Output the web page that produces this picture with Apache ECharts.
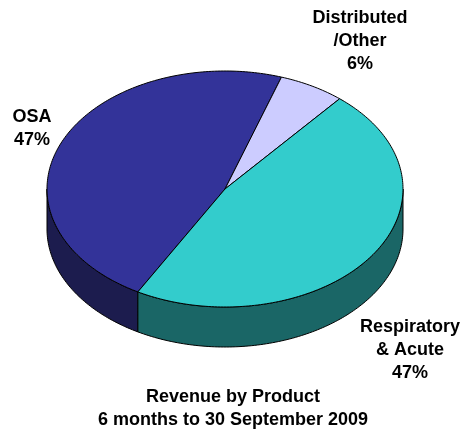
<!DOCTYPE html>
<html>
<head>
<meta charset="utf-8">
<script src="https://cdn.jsdelivr.net/npm/echarts@6/dist/echarts.min.js"></script>
<style>html,body{margin:0;padding:0;background:#fff}#chart{width:465px;height:431px}</style>
</head>
<body>
<div id="chart"></div>
<script>
// Revenue by Product - 3D pie, drawn with a custom series
var categories = ['OSA', 'Distributed\n/Other', 'Respiratory\n& Acute'];
var values = [47, 6, 47];
var topColors = ['#333399', '#ccccff', '#33cccc'];
var sideColors = ['#1c1c4e', '#8a8ab0', '#1a6666'];
var labelPos = [[32, 129], [360, 41], [410, 350]];

var cx = 225, cy = 189, rx = 178, ry = 118, depth = 40;
var startAngle = 240.7;   // degrees, slices go clockwise from here
var total = values.reduce(function (a, b) { return a + b; }, 0);
var font = 'bold 18px "Liberation Sans", Arial, sans-serif';

function pt(a, dy) {
    var r = a * Math.PI / 180;
    return [cx + rx * Math.cos(r), cy - ry * Math.sin(r) + (dy || 0)];
}
function arc(from, to, dy) {
    var pts = [], n = Math.max(2, Math.ceil(Math.abs(from - to)));
    for (var i = 0; i <= n; i++) {
        pts.push(pt(from + (to - from) * i / n, dy));
    }
    return pts;
}

var myChart = echarts.init(document.getElementById('chart'));

function renderItem(params, api) {
    var i = params.dataIndex;
    var before = 0;
    for (var k = 0; k < i; k++) before += values[k];
    var a1 = startAngle - 360 * before / total;
    var a2 = a1 - 360 * api.value(0) / total;
    var children = [];

    // front wall (only the lower half of the ellipse is seen)
    for (var m = -1; m <= 1; m++) {
        var lo = Math.max(a2, 180 + 360 * m), hi = Math.min(a1, 360 + 360 * m);
        if (hi - lo > 0.01) {
            var wall = arc(hi, lo, 0).concat(arc(lo, hi, depth));
            children.push({
                type: 'polygon', z2: 1,
                shape: { points: wall },
                style: { fill: sideColors[i], stroke: '#000', lineWidth: 1 }
            });
        }
    }
    // top face
    children.push({
        type: 'polygon', z2: 5,
        shape: { points: [[cx, cy]].concat(arc(a1, a2, 0)) },
        style: { fill: topColors[i], stroke: '#000', lineWidth: 1 }
    });
    // label
    children.push({
        type: 'text', z2: 10,
        style: {
            text: categories[i] + '\n' + values[i] + '%',
            x: labelPos[i][0], y: labelPos[i][1],
            align: 'center', verticalAlign: 'middle',
            font: font, lineHeight: 23, fill: '#000'
        }
    });
    return { type: 'group', children: children };
}

var option = {
    animation: false,
    graphic: [{
        type: 'text',
        x: 233, y: 408.5,
        style: {
            text: 'Revenue by Product\n6 months to 30 September 2009',
            align: 'center', verticalAlign: 'middle',
            font: font, lineHeight: 23, fill: '#000'
        }
    }],
    series: [{
        type: 'custom',
        coordinateSystem: 'none',
        renderItem: renderItem,
        data: values
    }]
};
myChart.setOption(option);
</script>
</body>
</html>
